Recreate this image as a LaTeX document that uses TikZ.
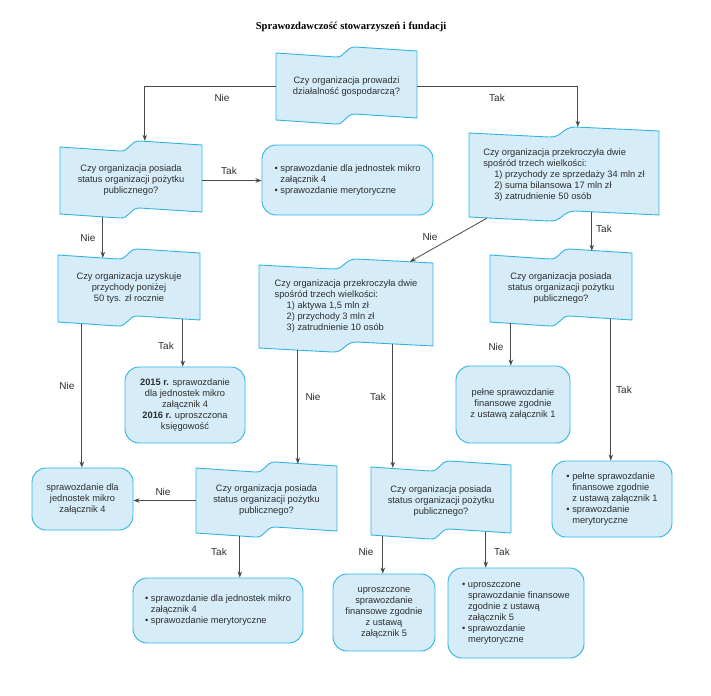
\documentclass[tikz,border=0pt]{standalone}
\usepackage{fontspec}
\setmainfont{Liberation Sans}
\newfontfamily\titlefont{Liberation Serif}
\usetikzlibrary{arrows.meta,calc}
\definecolor{qfillc}{RGB}{214,237,249}
\definecolor{qdrawc}{RGB}{48,178,228}
\definecolor{linec}{RGB}{72,72,72}
\definecolor{txtc}{RGB}{45,45,45}
% #1 align, #2 name, #3 x, #4 y, #5 W, #6 H, #7 text
\newcommand\qflag[7][center]{%
  \path[qshape] (#3,#4) -- (#3+0.42*#5,#4+4)
     .. controls (#3+0.49*#5,#4+5) and (#3+0.49*#5,#4-6) .. (#3+0.56*#5,#4-6)
     -- (#3+#5,#4-2) -- (#3+#5,#4+#6-2) -- (#3+0.56*#5,#4+#6-6)
     .. controls (#3+0.49*#5,#4+#6-6) and (#3+0.49*#5,#4+#6+5) .. (#3+0.42*#5,#4+#6+4)
     -- (#3,#4+#6) -- cycle;
  \node[qtext,align=#1,minimum width=#5,minimum height=#6] (#2) at (#3+#5/2,#4+#6/2) {#7};
}
\newcommand\bind{\phantom{\textbullet\ }}
\begin{document}
\begin{tikzpicture}[x=1pt,y=-1pt,
  qshape/.style={fill=qfillc,draw=qdrawc,line width=0.9pt},
  qtext/.style={inner sep=0pt,font=\fontsize{9.3}{11}\selectfont,text=txtc},
  rbox/.style={fill=qfillc,draw=qdrawc,line width=0.9pt,rounded corners=14pt,inner sep=0pt,align=center,font=\fontsize{9.3}{11}\selectfont,text=txtc},
  arr/.style={draw=linec,line width=0.8pt,-{Stealth[length=6pt,width=4.5pt]}},
  lbl/.style={font=\fontsize{10}{12}\selectfont,text=txtc,inner sep=0pt}]
\useasboundingbox (0,0) rectangle (711,695);

\node[font={\titlefont\fontsize{10.6}{13}\selectfont\bfseries},text=black] (title) at (351,27) {Sprawozdawczość stowarzyszeń i fundacji};

\qflag{q1}{276}{53}{141}{67}{Czy organizacja prowadzi\\działalność gospodarczą?}
\qflag{q2}{60}{147}{142}{67}{Czy organizacja posiada\\status organizacji pożytku\\publicznego?}
\qflag[left]{qR}{469}{133}{190}{84}{Czy organizacja przekroczyła dwie\\spośród trzech wielkości:\\\hspace*{11pt}1) przychody ze sprzedaży 34 mln zł\\\hspace*{11pt}2) suma bilansowa 17 mln zł\\\hspace*{11pt}3) zatrudnienie 50 osób}
\qflag{q3}{58}{255}{142}{67}{Czy organizacja uzyskuje\\przychody poniżej\\50 tys. zł rocznie}
\qflag[left]{qC}{259}{265}{174}{83}{Czy organizacja przekroczyła dwie\\spośród trzech wielkości:\\\hspace*{12pt}1) aktywa 1,5 mln zł\\\hspace*{12pt}2) przychody 3 mln zł\\\hspace*{12pt}3) zatrudnienie 10 osób}
\qflag{q7}{490}{255}{142}{67}{Czy organizacja posiada\\status organizacji pożytku\\publicznego?}
\qflag{q8}{196}{468}{141}{65}{Czy organizacja posiada\\status organizacji pożytku\\publicznego?}
\qflag{q9}{371}{467}{140}{68}{Czy organizacja posiada\\status organizacji pożytku\\publicznego?}

\node[rbox,align=left,minimum width=171,minimum height=70] (A) at (347.5,180) {\textbullet\ sprawozdanie dla jednostek mikro\\\bind załącznik 4\\\textbullet\ sprawozdanie merytoryczne};
\node[rbox,minimum width=101,minimum height=62] (B) at (82.5,499) {sprawozdanie dla\\jednostek mikro\\załącznik 4};
\node[rbox,minimum width=120,minimum height=76] (C) at (185,405) {\textbf{2015 r.} sprawozdanie\\dla jednostek mikro\\załącznik 4\\\textbf{2016 r.} uproszczona\\księgowość};
\node[rbox,align=left,minimum width=170,minimum height=65] (D) at (218,610.5) {\textbullet\ sprawozdanie dla jednostek mikro\\\bind załącznik 4\\\textbullet\ sprawozdanie merytoryczne};
\node[rbox,minimum width=102,minimum height=77] (E) at (384,612.5) {uproszczone\\sprawozdanie\\finansowe zgodnie\\z ustawą\\załącznik 5};
\node[rbox,align=left,minimum width=136,minimum height=90] (F) at (516,613) {\textbullet\ uproszczone\\\bind sprawozdanie finansowe\\\bind zgodnie z ustawą\\\bind załącznik 5\\\textbullet\ sprawozdanie\\\bind merytoryczne};
\node[rbox,minimum width=114,minimum height=77] (G) at (513,404.5) {pełne sprawozdanie\\finansowe zgodnie\\z ustawą załącznik 1};
\node[rbox,align=left,minimum width=120,minimum height=76] (H) at (612,499) {\textbullet\ pełne sprawozdanie\\\bind finansowe zgodnie\\\bind z ustawą załącznik 1\\\textbullet\ sprawozdanie\\\bind merytoryczne};

% connectors
\draw[arr] (q1.west) -| ($(q2.north west)+(85,-6)$);
\node[lbl] (l1) at (222,98) {Nie};
\draw[arr] (q1.east) -| ($(qR.north west)+(109,-6)$);
\node[lbl] (l2) at (497,98) {Tak};
\draw[arr] (q2.east) -- (q2.east -| A.west);
\node[lbl] (l3) at (229,171) {Tak};

\coordinate (s4) at ($(q2.south west)+(43,3)$);
\draw[arr] (s4) -- ($(s4 |- q3.north)+(0,3)$);
\node[lbl] (l4) at (88,238) {Nie};

\coordinate (s5) at ($(q3.south west)+(24,2)$);
\draw[arr] (s5) -- (s5 |- B.north);
\node[lbl] (l5) at (67,386) {Nie};

\coordinate (s6) at ($(q3.south west)+(125,-3)$);
\draw[arr] (s6) -- (s6 |- C.north);
\node[lbl] (l6) at (166,346) {Tak};

\coordinate (s7) at ($(qR.south west)+(123,-5)$);
\draw[arr] (s7) -- ($(s7 |- q7.north)+(0,-4)$);
\node[lbl] (l7) at (604,229) {Tak};

\coordinate (s8) at ($(qR.south west)+(18,1)$);
\draw[arr] (s8) -- ($(qC.north west)+(151,-3)$);
\node[lbl] (l8) at (430,237) {Nie};

\coordinate (s9) at ($(qC.south west)+(39,2)$);
\draw[arr] (s9) -- ($(s9 |- q8.north)+(0,-4)$);
\node[lbl] (l9) at (313,397) {Nie};

\coordinate (s10) at ($(qC.south west)+(134,-4)$);
\draw[arr] (s10) -- ($(s10 |- q9.north)+(0,1)$);
\node[lbl] (l10) at (378,397) {Tak};

\draw[arr] (q8.west) -- (q8.west -| B.east);
\node[lbl] (l11) at (163,492) {Nie};

\coordinate (s12) at ($(q8.south west)+(44,3)$);
\draw[arr] (s12) -- (s12 |- D.north);
\node[lbl] (l12) at (219,552) {Tak};

\coordinate (s13) at ($(q7.south west)+(21,1)$);
\draw[arr] (s13) -- (s13 |- G.north);
\node[lbl] (l13) at (496,347) {Nie};

\coordinate (s14) at ($(q7.south west)+(121,-3)$);
\draw[arr] (s14) -- (s14 |- H.north);
\node[lbl] (l14) at (624,390) {Tak};

\coordinate (s15) at ($(q9.south west)+(12,1)$);
\draw[arr] (s15) -- (s15 |- E.north);
\node[lbl] (l15) at (366,552) {Nie};

\coordinate (s16) at ($(q9.south west)+(115,-3)$);
\draw[arr] (s16) -- (s16 |- F.north);
\node[lbl] (l16) at (502,552) {Tak};
\end{tikzpicture}
\end{document}
